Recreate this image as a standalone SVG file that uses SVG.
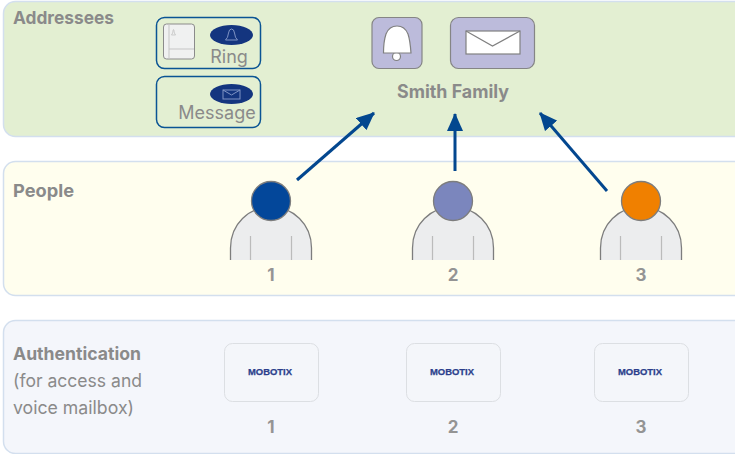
<svg xmlns="http://www.w3.org/2000/svg" width="735" height="454" viewBox="0 0 735 454">
<style>
text{font-family:"Inter","Noto Sans",sans-serif;fill:#8a8a8a}
.b{font-weight:700;font-size:18px}
.n{font-weight:700;font-size:17px;text-anchor:middle;fill:#949494}
.r{font-size:18px}
.panel{stroke:#d3dfee;stroke-width:1.5}
.ib{fill:none;stroke:#0a5494;stroke-width:1.5}
.ov{fill:#14357f}
.torso{fill:#ecedee;stroke:#7d7d7d;stroke-width:1.3}
.seam{stroke:#bbb;stroke-width:1.2}
.head{stroke:#7d7d7d;stroke-width:1.3}
.card{fill:#f4f6fa;stroke:#dcdfe3;stroke-width:1}
.logo{font-family:"Liberation Sans",sans-serif;font-size:9px;font-weight:700;fill:#2b3f8c;stroke:#2b3f8c;stroke-width:.25;text-anchor:middle}
.pur{fill:#bcbbdb;stroke:#858585;stroke-width:1.2}
.w{fill:#fff;stroke:#808080;stroke-width:1.2}
.conn{stroke:#03478f;stroke-width:3;fill:none;marker-end:url(#ah)}
</style>
<defs>
<marker id="ah" markerUnits="userSpaceOnUse" markerWidth="20" markerHeight="16" refX="17" refY="8" orient="auto"><path d="M0 0L18 8L0 16z" fill="#03478f"/></marker>
<g id="person">
<path class="torso" d="M-40.500 260V248C-40.500 224-22 207 0 207S40.500 224 40.500 248V260"/>
<path class="seam" d="M-20.500 236V260M20.500 236V260"/>
</g>
</defs>
<rect width="735" height="454" fill="#fff"/>
<g id="panel-addressees"><rect class="panel" x="3.500" y="1.500" width="745" height="135" rx="12" fill="#e3efd2"/><text class="b" x="13" y="24" textLength="101" lengthAdjust="spacingAndGlyphs">Addressees</text></g>
<g id="panel-people"><rect class="panel" x="3.500" y="161.500" width="745" height="134" rx="12" fill="#fffeee"/><text class="b" x="13" y="197" textLength="61" lengthAdjust="spacingAndGlyphs">People</text></g>
<g id="panel-auth"><rect class="panel" x="3.500" y="320.500" width="745" height="133" rx="12" fill="#f4f6fb"/><text class="b" x="13" y="360" textLength="128" lengthAdjust="spacingAndGlyphs">Authentication</text><text class="r" x="13" y="387" textLength="129" lengthAdjust="spacingAndGlyphs">(for access and</text><text class="r" x="13" y="414" textLength="121" lengthAdjust="spacingAndGlyphs">voice mailbox)</text></g>
<g id="ring-box"><rect class="ib" x="156.500" y="17.500" width="104" height="51" rx="8"/>
<rect x="163.500" y="24" width="31" height="35" rx="3" fill="#f0f1f1" stroke="#8b8b8b"/><path d="M169 24V59M169 49H194" stroke="#c5c5c5" fill="none"/><path d="M171.500 35Q173 33 173 31Q173 29.500 173.500 29.500Q174 29.500 174 31Q174 33 175.500 35Z" fill="none" stroke="#bbb" stroke-width=".7"/>
<ellipse class="ov" cx="231.500" cy="35" rx="21.500" ry="10"/><path d="M225.500 40Q228 38 228.500 33Q229 29 231.500 29Q234 29 234.500 33Q235 38 237.500 40Z" fill="none" stroke="#7f93c4"/>
<text x="229" y="63" font-size="18" text-anchor="middle">Ring</text></g>
<g id="message-box"><rect class="ib" x="156.500" y="76.500" width="104" height="51" rx="8"/>
<ellipse class="ov" cx="231.500" cy="94" rx="21.500" ry="10"/><rect x="223" y="90" width="17" height="9" fill="none" stroke="#7f93c4"/><path d="M223 90L231.500 95L240 90" fill="none" stroke="#7f93c4"/>
<text x="217" y="119" font-size="18" text-anchor="middle">Message</text></g>
<g id="smith-family">
<rect class="pur" x="372" y="17.500" width="50" height="51" rx="7"/>
<circle class="w" cx="396.500" cy="56.500" r="4"/><path class="w" d="M383.500 53C383.500 46 384 40 386 34C388 29 392 26 397 26C402 26 406 29 408 34C410 40 410.500 46 411 53Z"/>
<rect class="pur" x="450.500" y="17.500" width="84" height="51" rx="8"/>
<rect class="w" x="466" y="31" width="54" height="23" stroke-width="1.500"/><path d="M466 31L492.500 46L520 31" fill="none" stroke="#808080" stroke-width="1.200"/>
<text x="453" y="98" font-size="18.500" font-weight="700" text-anchor="middle" textLength="112" lengthAdjust="spacingAndGlyphs">Smith Family</text></g>
<g id="person-1"><use href="#person" x="271"/><circle class="head" cx="271" cy="201" r="19.500" fill="#03479a"/><text class="n" x="271" y="281">1</text></g>
<g id="person-2"><use href="#person" x="453"/><circle class="head" cx="453" cy="201" r="19.500" fill="#7b86bd"/><text class="n" x="453" y="281">2</text></g>
<g id="person-3"><use href="#person" x="641"/><circle class="head" cx="641" cy="201" r="19.500" fill="#f08000"/><text class="n" x="641" y="281">3</text></g>
<g id="card-1"><rect class="card" x="224.500" y="343.500" width="94" height="58" rx="8"/><text class="logo" x="270" y="375" textLength="44" lengthAdjust="spacingAndGlyphs">MOBOTIX</text><text class="n" x="271" y="433">1</text></g>
<g id="card-2"><rect class="card" x="406.500" y="343.500" width="94" height="58" rx="8"/><text class="logo" x="452" y="375" textLength="44" lengthAdjust="spacingAndGlyphs">MOBOTIX</text><text class="n" x="453" y="433">2</text></g>
<g id="card-3"><rect class="card" x="594.500" y="343.500" width="94" height="58" rx="8"/><text class="logo" x="640" y="375" textLength="44" lengthAdjust="spacingAndGlyphs">MOBOTIX</text><text class="n" x="641" y="433">3</text></g>
<g id="connectors">
<path class="conn" d="M297 180L374 113"/>
<path class="conn" d="M455 171V114"/>
<path class="conn" d="M607 191L540 113"/>
</g>
</svg>
